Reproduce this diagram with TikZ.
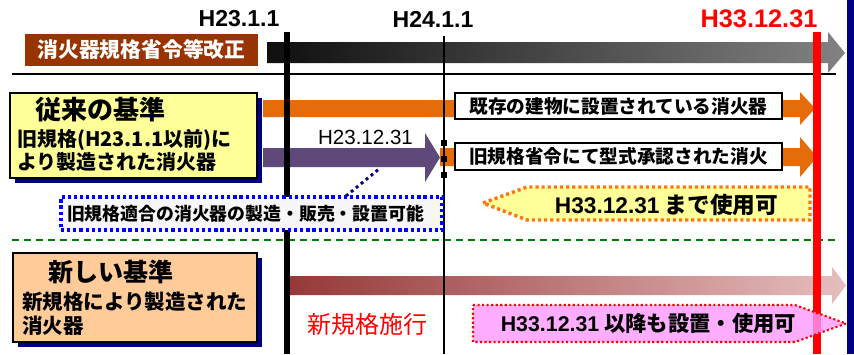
\documentclass[tikz,border=0pt]{standalone}
\usepackage{fontspec}
\setmainfont{Liberation Sans}
\newfontfamily\jp{Noto Sans CJK JP}
\usetikzlibrary{fit}
\definecolor{navyc}{RGB}{0,0,128}
\definecolor{brownc}{RGB}{153,51,0}
\definecolor{orangec}{RGB}{228,108,10}
\definecolor{purplec}{RGB}{95,73,122}
\definecolor{yellowc}{RGB}{255,255,153}
\definecolor{peachc}{RGB}{255,204,153}
\definecolor{pinkc}{RGB}{255,153,255}
\definecolor{greenc}{RGB}{0,128,0}
\definecolor{dotorange}{RGB}{250,120,20}
\definecolor{calloutbg}{RGB}{246,246,246}
\definecolor{gdark}{RGB}{15,15,15}
\definecolor{glight}{RGB}{130,130,130}
\definecolor{rdark}{RGB}{150,55,55}
\definecolor{rlight}{RGB}{230,190,190}
\newcommand\fsz[1]{\fontsize{#1}{#1}\selectfont}
\begin{document}
\begin{tikzpicture}[x=0.75pt,y=-0.75pt,
  txt/.style={inner sep=0pt,outer sep=0pt},
  fitbox/.style={inner sep=0pt,outer sep=0pt},
  labelbox/.style={fitbox,draw=black,line width=1pt,fill=white},
  shadowbox/.style={fill=navyc},
  datelbl/.style={txt,font=\bfseries\fsz{17.3}},
  jpb/.style={txt,font=\jp\bfseries\fsz{#1}},
  vline/.style={line width=#1},
  marker/.style={fill=black},
  dotborder/.style={line width=2.6pt,dash pattern=on 2.4pt off 2.2pt},
]
\useasboundingbox (0,0) rectangle (854,354);
\fill[white] (0,0) rectangle (854,354);
% right navy strip
\fill[navyc] (847,0) rectangle (854,354);

% separators
\draw[line width=1.2pt] (12,74) -- (836,74);
\draw[greenc,line width=1.2pt,dash pattern=on 5.5pt off 3.5pt] (12,240) -- (836,240);

% date labels
\node[datelbl] (d1) at (239,19) {H23.1.1};
\node[datelbl] (d2) at (433,19) {H24.1.1};
\node[datelbl,red,font=\bfseries\fsz{19}] (d3) at (759,19) {H33.12.31};

% brown title box
\node[fitbox,fill=brownc,fit={(25,34) (258,66)}] (title) {};
\node[jpb=15.6,white] (titletxt) at (title.center) {消火器規格省令等改正};

% gradient top arrow
\shade[left color=gdark,right color=glight]
  (267,42) -- (828,42) -- (828,32) -- (845,53) -- (828,73) -- (828,63) -- (267,63) -- cycle;

% orange arrow 1
\fill[orangec] (263,100) -- (800,100) -- (800,92) -- (815,108.5) -- (800,125) -- (800,117) -- (263,117) -- cycle;
% purple arrow
\fill[purplec] (263,148) -- (425,148) -- (425,133) -- (440,157.5) -- (425,182) -- (425,167) -- (263,167) -- cycle;
% orange arrow 2
\fill[orangec] (440,148) -- (800,148) -- (800,137) -- (817,157) -- (800,177) -- (800,166) -- (440,166) -- cycle;
% brown-pink gradient arrow
\shade[left color=rdark,right color=rlight]
  (285,276) -- (832,276) -- (832,267) -- (846,285.5) -- (832,304) -- (832,295) -- (285,295) -- cycle;

% white label boxes
\node[labelbox,fit={(455,93) (782,119)}] (lab1) {};
\node[jpb=14,black] at (lab1.center) {既存の建物に設置されている消火器};
\node[labelbox,fit={(455,143) (782,170)}] (lab2) {};
\node[jpb=14,black] at (lab2.center) {旧規格省令にて型式承認された消火};

\node[txt,font=\fsz{15.4}] (d4) at (365.5,137.5) {H23.12.31};

% vertical lines
\draw[vline=5pt] (287,32) -- (287,354);
\draw[vline=1.5pt] (444,36) -- (444,354);
\draw[vline=6pt,red] (817,32) -- (817,354);

% markers on H24.1.1 line
\node[marker,minimum size=4.5pt,inner sep=0pt] (m1) at (444,143) {};
\node[marker,minimum size=4.5pt,inner sep=0pt] (m2) at (444,159) {};
\node[marker,minimum size=4.5pt,inner sep=0pt] (m3) at (444,175) {};

% blue dotted callout
\node[fitbox,fill=calloutbg,draw=blue,dotborder,fit={(61,197) (442,230)}] (callout) {};
\node[jpb=13.4,anchor=west] (callouttxt) at (67,213.5) {旧規格適合の消火器の製造・販売・設置可能};
\coordinate (cp1) at (346,196);
\coordinate (cp2) at (379,169);
\draw[navyc,line width=2.2pt,dash pattern=on 2.2pt off 2.6pt] (cp1) -- (cp2);

% yellow left-pointing pentagon
\filldraw[fill=yellowc,draw=dotorange,dotborder]
  (483,203) -- (527,187) -- (810,187) -- (810,220) -- (527,220) -- cycle;
\node[jpb=17] (until) at (666.5,205) {{\rmfamily\bfseries H33.12.31} まで使用可};

% new standard text
\node[txt,font=\jp\fsz{18},red] (shiko) at (367.5,324) {新規格施行};

% pink right-pointing pentagon
\filldraw[fill=pinkc,fill opacity=0.8,draw=red,line width=1.6pt,dash pattern=on 1.6pt off 1.8pt]
  (473,305) -- (795,305) -- (846,323.5) -- (795,342) -- (473,342) -- cycle;
\node[jpb=16] (after) at (648.5,323.5) {{\rmfamily\bfseries H33.12.31} 以降も設置・使用可};

% yellow box (old standard)
\fill[shadowbox] (15,98) rectangle (262,183);
\node[fitbox,fill=yellowc,draw=black,line width=1.2pt,fit={(10,93) (257,178)}] (oldbox) {};
\node[jpb=19.5] (oldh) at (101,110) {従来の基準};
\node[jpb=15,anchor=west] (old1) at (17,140) {旧規格(H23.1.1以前)に};
\node[jpb=15,anchor=west] (old2) at (17,162) {より製造された消火器};

% peach box (new standard)
\fill[shadowbox] (18,258) rectangle (262,347);
\node[fitbox,fill=peachc,draw=black,line width=1.2pt,fit={(13,253) (257,342)}] (newbox) {};
\node[jpb=18.75] (newh) at (110.5,272) {新しい基準};
\node[jpb=15.4,anchor=west] (new1) at (22,302) {新規格により製造された};
\node[jpb=15.4,anchor=west] (new2) at (22,326) {消火器};
\end{tikzpicture}
\end{document}
